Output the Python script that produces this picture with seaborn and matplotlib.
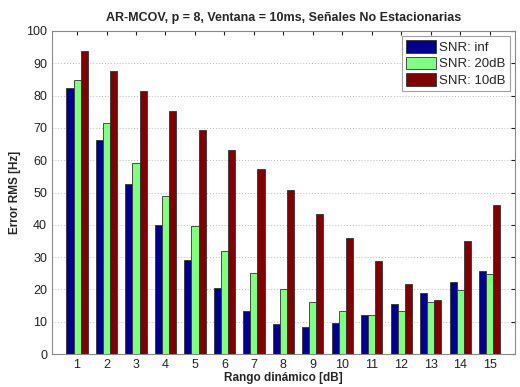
import matplotlib
matplotlib.use("Agg")
import matplotlib.pyplot as plt
import seaborn as sns
import pandas as pd

rango = [str(i) for i in range(1, 16)]
snr_inf = [82.4, 66.3, 52.5, 40.1, 29.2, 20.5, 13.3, 9.4, 8.3, 9.6, 12.0, 15.5, 18.8, 22.3, 25.8]
snr_20 = [84.8, 71.5, 59.2, 48.8, 39.5, 31.9, 25.2, 20.0, 16.2, 13.3, 12.2, 13.3, 16.0, 19.9, 24.7]
snr_10 = [93.8, 87.7, 81.4, 75.1, 69.2, 63.3, 57.3, 50.9, 43.5, 35.9, 28.8, 21.8, 16.8, 35.1, 46.0]
series = ["SNR: inf", "SNR: 20dB", "SNR: 10dB"]
colors = ["#00008F", "#80FF80", "#800000"]

df = pd.DataFrame({
    "x": rango * 3,
    "y": snr_inf + snr_20 + snr_10,
    "s": [series[0]] * 15 + [series[1]] * 15 + [series[2]] * 15,
})

sns.set_style("white")
plt.rcParams["font.family"] = ["Liberation Sans", "DejaVu Sans"]

fig = plt.figure(figsize=(5.2, 3.87), dpi=100)
ax = fig.add_axes([0.1, 0.085, 0.89, 0.835])
sns.barplot(data=df, x="x", y="y", hue="s", palette=colors, width=0.72,
            edgecolor="#333333", linewidth=0.6, ax=ax, saturation=1)

ax.set_ylim(0, 100)
ax.set_xlim(-0.85, 14.85)
ax.set_yticks(range(0, 101, 10))
ax.yaxis.grid(True, linestyle=(0, (1, 2)), color="#bbbbbb", linewidth=0.7)
ax.set_axisbelow(True)
ax.tick_params(direction="in", length=3, labelsize=9, top=True, right=True, colors="#222222")
for sp in ax.spines.values():
    sp.set_visible(True)
    sp.set_color("#888888")
    sp.set_linewidth(0.8)
ax.set_xlabel("Rango dinámico [dB]", fontsize=8.5, fontweight="bold", labelpad=1)
ax.set_ylabel("Error RMS [Hz]", fontsize=8.5, fontweight="bold", labelpad=4)
ax.set_title("AR-MCOV, p = 8, Ventana = 10ms, Señales No Estacionarias",
             fontsize=9, fontweight="bold", pad=7)
leg = ax.legend(loc="upper right", fontsize=9.5, frameon=True, fancybox=False,
                edgecolor="#888888", handlelength=2.3, handleheight=1.1,
                borderpad=0.3, labelspacing=0.2, handletextpad=0.2,
                borderaxespad=0.4)
leg.get_frame().set_linewidth(0.8)
fig.savefig("out.png", dpi=100)
